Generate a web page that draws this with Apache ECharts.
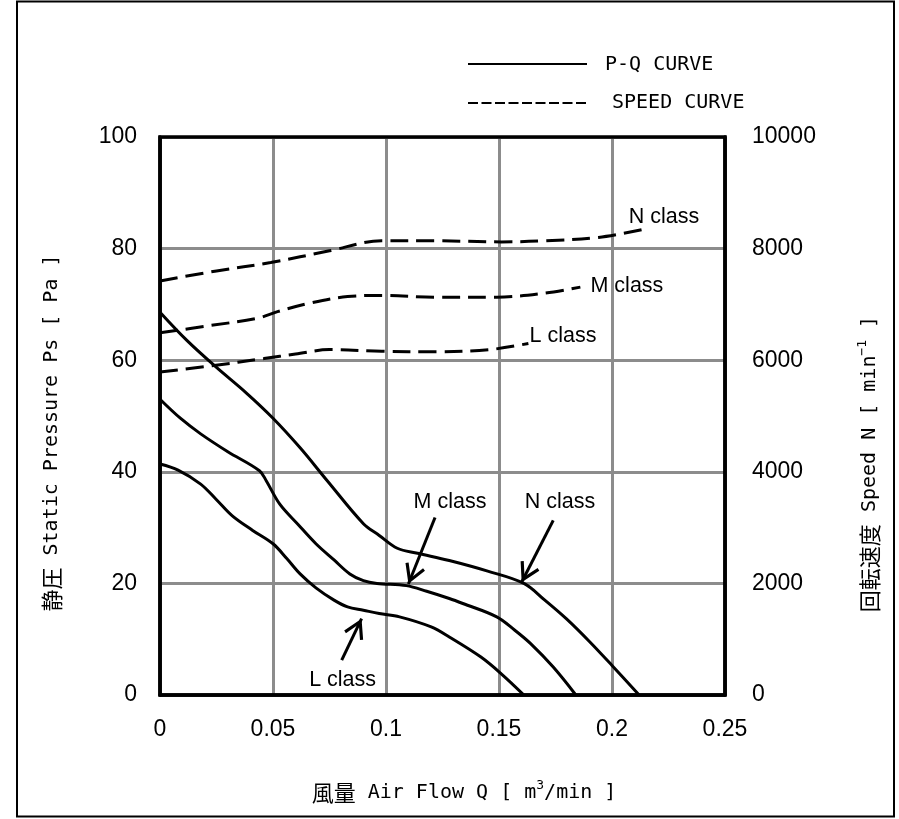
<!DOCTYPE html>
<html><head><meta charset="utf-8">
<script src="https://cdn.jsdelivr.net/npm/echarts@6/dist/echarts.min.js"></script>
<style>html,body{margin:0;padding:0;background:#fff}#c{width:899px;height:819px}</style>
</head><body><div id="c"></div>
<script>
// ---- data ----
const xTicks = [0, 0.05, 0.1, 0.15, 0.2, 0.25];
const pressureTicks = [0, 20, 40, 60, 80, 100];
const speedTicks = [0, 2000, 4000, 6000, 8000, 10000];

// P-Q curves: [airflow m3/min, static pressure Pa]
const pqN = [[0,68.6],[0.012,63.5],[0.025,58.7],[0.038,54.2],[0.05,49.6],[0.062,44.3],[0.074,38.4],[0.09,30.7],[0.097,28.6],[0.105,26.3],[0.114,25.4],[0.128,24.1],[0.145,22.2],[0.161,20],[0.17,17.1],[0.18,13.6],[0.19,9.6],[0.2,5.3],[0.212,0]];
const pqM = [[0,53],[0.009,49.6],[0.018,46.8],[0.03,43.6],[0.044,40.2],[0.047,38.4],[0.053,34.2],[0.061,30.6],[0.069,27.1],[0.077,24.2],[0.084,21.7],[0.09,20.5],[0.096,20],[0.109,19.6],[0.118,18.6],[0.128,17.3],[0.134,16.4],[0.149,14],[0.157,11.6],[0.164,9.2],[0.174,5],[0.184,0]];
const pqL = [[0,41.4],[0.008,40.3],[0.018,37.8],[0.025,35],[0.032,32.1],[0.041,29.5],[0.05,27.1],[0.056,24.5],[0.062,21.7],[0.069,19.2],[0.077,17],[0.083,15.8],[0.09,15.2],[0.097,14.6],[0.106,14],[0.12,12.2],[0.128,10.4],[0.142,6.8],[0.151,3.8],[0.161,0]];

// Speed curves: [airflow m3/min, speed min^-1]
const spN = [[0,7420],[0.025,7600],[0.049,7750],[0.075,7960],[0.098,8140],[0.122,8140],[0.151,8120],[0.17,8140],[0.194,8200],[0.2135,8340]];
const spM = [[0,6490],[0.022,6620],[0.043,6750],[0.052,6870],[0.067,7030],[0.083,7140],[0.098,7160],[0.122,7130],[0.149,7130],[0.17,7200],[0.186,7310]];
const spL = [[0,5790],[0.023,5900],[0.046,6030],[0.06,6110],[0.075,6190],[0.098,6160],[0.122,6150],[0.146,6190],[0.163,6300]];

// annotation anchors (data coordinates)
const classNames = ['N class', 'M class', 'L class'];
const pqLabelPos = [[0.177,34.6],[0.1283,34.6],[0.0808,2.7]];
const pqArrowFrom = [[0.174,31.3],[0.1217,31.8],[0.0804,6.25]];
const pqArrowTo = [[0.16,20.2],[0.1099,19.9],[0.0892,13.7]];
const spLabelPos = [[0.223,8570],[0.2066,7330],[0.1783,6430]];

// ---- chart ----
const tickFont = 'Liberation Sans, Arial, sans-serif';
const monoFont = "'DejaVu Sans Mono', 'Noto Sans CJK JP', monospace";
const cjkFont = "'Noto Sans CJK JP', sans-serif";
// open chevron with its tip at the centre of the bounding box
const chevron = 'path://M0,0 L8.5,14.5 L6.3,15.8 L0,5 L-6.3,15.8 L-8.5,14.5 Z M-0.01,-16 L0.01,-16 L0,-15.99 Z';

function labelMark(pos, name) {
  return {
    symbol: 'circle', symbolSize: 1, silent: true,
    itemStyle: { color: 'rgba(0,0,0,0)' },
    label: { show: true, position: 'inside', color: '#000', fontSize: 21.5, fontFamily: tickFont },
    data: [{ coord: pos, value: name, label: { formatter: name } }]
  };
}
function arrowMark(from, to) {
  return {
    silent: true, symbol: ['none', chevron], symbolSize: [21, 40],
    lineStyle: { color: '#000', width: 3, type: 'solid' },
    label: { show: false },
    data: [[{ coord: from }, { coord: to }]]
  };
}

const pqSets = [pqN, pqM, pqL];
const spSets = [spN, spM, spL];
const series = [];
pqSets.forEach((d, i) => {
  series.push({
    type: 'line', name: 'P-Q ' + classNames[i], data: d, yAxisIndex: 0,
    smooth: 0.35, showSymbol: false, lineStyle: { color: '#000', width: 3 },
    markPoint: labelMark(pqLabelPos[i], classNames[i]),
    markLine: arrowMark(pqArrowFrom[i], pqArrowTo[i]),
    z: 5
  });
});
spSets.forEach((d, i) => {
  series.push({
    type: 'line', name: 'Speed ' + classNames[i], data: d, yAxisIndex: 1,
    smooth: 0.35, showSymbol: false,
    lineStyle: { color: '#000', width: 3, type: [18, 8] },
    markPoint: labelMark(spLabelPos[i], classNames[i]),
    z: 5
  });
});

const chart = echarts.init(document.getElementById('c'), null, { renderer: 'canvas' });
const gridBox = { left: 160, top: 137, width: 565, height: 558 };
const tickLabel = { color: '#000', fontSize: 23, fontFamily: tickFont, formatter: v => String(+(+v).toFixed(2)) };
chart.setOption({
  animation: false,
  backgroundColor: '#fff',
  grid: Object.assign({ show: true, borderColor: '#000', borderWidth: 3.5, backgroundColor: 'rgba(0,0,0,0)', z: 3 }, gridBox),
  xAxis: {
    type: 'value', min: xTicks[0], max: xTicks[xTicks.length - 1], interval: 0.05,
    axisLine: { show: true, lineStyle: { color: '#000', width: 3.5 } },
    axisTick: { show: false },
    splitLine: { show: true, lineStyle: { color: '#8c8c8c', width: 3 } },
    axisLabel: Object.assign({ margin: 23 }, tickLabel)
  },
  yAxis: [{
    type: 'value', min: pressureTicks[0], max: pressureTicks[pressureTicks.length - 1], interval: 20,
    axisLine: { show: true, lineStyle: { color: '#000', width: 3.5 } },
    axisTick: { show: false },
    splitLine: { show: true, lineStyle: { color: '#8c8c8c', width: 3 } },
    axisLabel: Object.assign({ margin: 23 }, tickLabel)
  }, {
    type: 'value', min: speedTicks[0], max: speedTicks[speedTicks.length - 1], interval: 2000,
    position: 'right',
    axisLine: { show: true, lineStyle: { color: '#000', width: 3.5 } },
    axisTick: { show: false },
    splitLine: { show: false },
    axisLabel: Object.assign({ margin: 27 }, tickLabel)
  }],
  series: series,
  graphic: [
    { type: 'rect', shape: { x: 17, y: 1.5, width: 877, height: 815 }, style: { fill: 'none', stroke: '#000', lineWidth: 2 }, silent: true, z: 0 },
    // legend
    { type: 'line', shape: { x1: 468, y1: 64, x2: 587, y2: 64 }, style: { stroke: '#000', lineWidth: 2 }, silent: true },
    { type: 'text', x: 605, y: 65, style: { text: 'P-Q CURVE', font: '20px ' + monoFont, fill: '#000', textVerticalAlign: 'middle' }, silent: true },
    { type: 'line', shape: { x1: 468, y1: 103, x2: 587, y2: 103 }, style: { stroke: '#000', lineWidth: 2, lineDash: [10, 3.5] }, silent: true },
    { type: 'text', x: 612, y: 103, style: { text: 'SPEED CURVE', font: '20px ' + monoFont, fill: '#000', textVerticalAlign: 'middle' }, silent: true },
    // axis titles
    { type: 'text', x: 464, y: 793, silent: true,
      style: { text: '{k|風量}{t| Air Flow Q [ m}{s|3}{t|/min ]}', textAlign: 'center', textVerticalAlign: 'middle',
        rich: { k: { font: '22px ' + cjkFont, fill: '#000' }, t: { font: '20px ' + monoFont, fill: '#000' },
                s: { font: '13px ' + monoFont, fill: '#000', padding: [0, 0, 14, 0] } } } },
    { type: 'text', x: 52, y: 433, rotation: Math.PI / 2, silent: true,
      style: { text: '{k|静圧}{t| Static Pressure Ps [ Pa ]}', textAlign: 'center', textVerticalAlign: 'middle',
        rich: { k: { font: '22px ' + cjkFont, fill: '#000' }, t: { font: '20px ' + monoFont, fill: '#000' } } } },
    { type: 'text', x: 870, y: 464, rotation: Math.PI / 2, silent: true,
      style: { text: '{k|回転速度}{t| Speed N [ min}{s|−1}{t| ]}', textAlign: 'center', textVerticalAlign: 'middle',
        rich: { k: { font: '22px ' + cjkFont, fill: '#000' }, t: { font: '20px ' + monoFont, fill: '#000' },
                s: { font: '13px ' + monoFont, fill: '#000', padding: [0, 0, 14, 0] } } } }
  ]
});
</script>
</body></html>
